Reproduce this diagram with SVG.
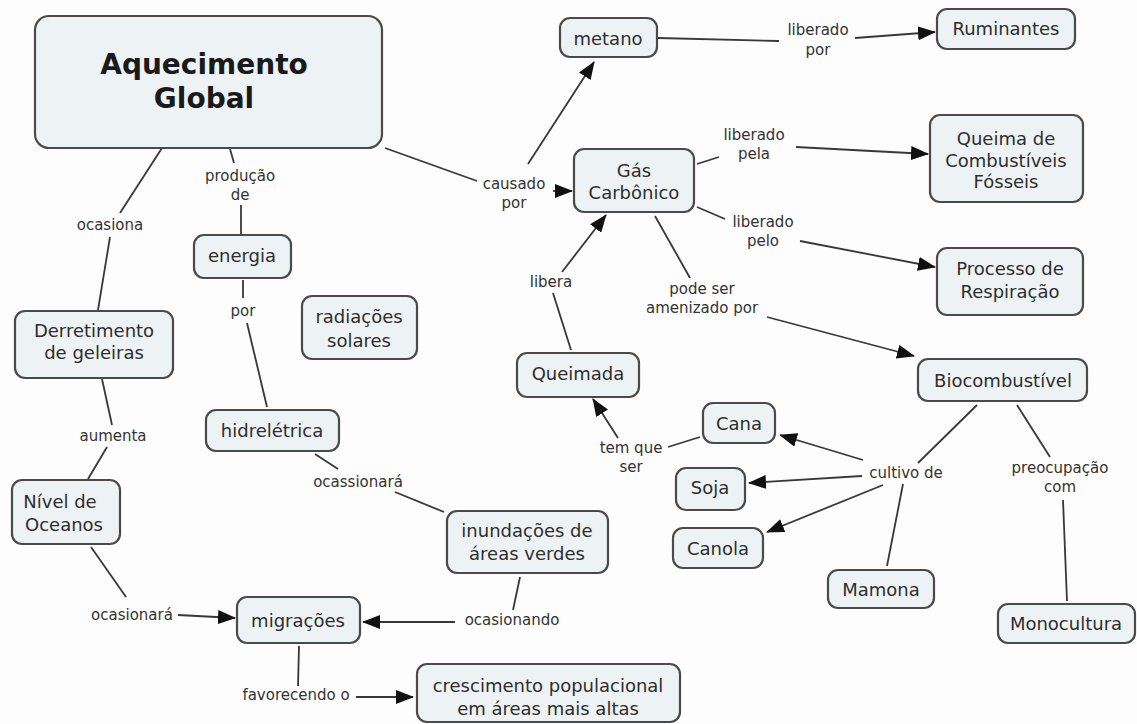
<svg xmlns="http://www.w3.org/2000/svg" width="1137" height="724" viewBox="0 0 1137 724">
<style>
.n rect{fill:#edf2f5;stroke:#4a4a4a;stroke-width:2.2}
.n text{font-family:"DejaVu Sans","Liberation Sans",sans-serif;font-size:18px;fill:#2e2e2e;text-anchor:middle}
.t text{font-weight:bold;font-size:28px;fill:#1a1a1a}
.lbl{font-family:"DejaVu Sans","Liberation Sans",sans-serif;font-size:15px;fill:#333;text-anchor:middle}
#links line{stroke:#383838;stroke-width:1.8}
#links line.a{marker-end:url(#ah)}
</style>
<defs>
<marker id="ah" markerUnits="userSpaceOnUse" markerWidth="18" markerHeight="14" refX="17" refY="7" orient="auto" viewBox="0 0 18 14">
<path d="M0,0 L18,7 L0,14 Z" fill="#111"/>
</marker>
</defs>
<rect width="1137" height="724" fill="#fdfdfd"/>
<g id="links">
<line x1="162" y1="148" x2="120" y2="213"/>
<line x1="110" y1="237" x2="98" y2="310"/>
<line x1="230" y1="149" x2="234" y2="163"/>
<line x1="241" y1="205" x2="241" y2="234"/>
<line x1="243" y1="280" x2="243" y2="298"/>
<line x1="247" y1="323" x2="267" y2="407"/>
<line x1="102" y1="379" x2="112" y2="425"/>
<line x1="107" y1="447" x2="88" y2="479"/>
<line x1="315" y1="454" x2="338" y2="469"/>
<line x1="395" y1="492" x2="444" y2="512"/>
<line x1="520" y1="577" x2="513" y2="610"/>
<line class="a" x1="455" y1="622" x2="363" y2="622"/>
<line x1="91" y1="547" x2="126" y2="597"/>
<line class="a" x1="178" y1="615" x2="235" y2="618"/>
<line x1="299" y1="646" x2="298" y2="686"/>
<line class="a" x1="356" y1="697" x2="413" y2="697"/>
<line x1="385" y1="148" x2="477" y2="181"/>
<line class="a" x1="553" y1="191" x2="572" y2="191"/>
<line class="a" x1="528" y1="164" x2="594" y2="62"/>
<line x1="658" y1="38" x2="779" y2="41"/>
<line class="a" x1="855" y1="38" x2="935" y2="32"/>
<line x1="697" y1="164" x2="719" y2="157"/>
<line class="a" x1="796" y1="147" x2="928" y2="154"/>
<line x1="697" y1="207" x2="725" y2="219"/>
<line class="a" x1="800" y1="241" x2="935" y2="267"/>
<line x1="655" y1="216" x2="690" y2="278"/>
<line class="a" x1="767" y1="317" x2="914" y2="356"/>
<line x1="571" y1="350" x2="553" y2="293"/>
<line class="a" x1="562" y1="272" x2="606" y2="215"/>
<line class="a" x1="618" y1="438" x2="593" y2="399"/>
<line x1="700" y1="437" x2="668" y2="447"/>
<line x1="977" y1="405" x2="918" y2="463"/>
<line class="a" x1="863" y1="460" x2="780" y2="435"/>
<line class="a" x1="862" y1="476" x2="749" y2="483"/>
<line class="a" x1="883" y1="485" x2="767" y2="532"/>
<line x1="903" y1="484" x2="887" y2="566"/>
<line x1="1017" y1="405" x2="1050" y2="457"/>
<line x1="1063" y1="500" x2="1067" y2="601"/>
<text class="lbl" x="110" y="230">ocasiona</text>
<text class="lbl" x="240" y="181">produção</text>
<text class="lbl" x="240" y="200">de</text>
<text class="lbl" x="243" y="316">por</text>
<text class="lbl" x="113" y="441">aumenta</text>
<text class="lbl" x="358" y="487">ocassionará</text>
<text class="lbl" x="132" y="620">ocasionará</text>
<text class="lbl" x="296" y="700">favorecendo o</text>
<text class="lbl" x="512" y="625">ocasionando</text>
<text class="lbl" x="514" y="189">causado</text>
<text class="lbl" x="514" y="208">por</text>
<text class="lbl" x="818" y="35">liberado</text>
<text class="lbl" x="818" y="55">por</text>
<text class="lbl" x="754" y="140">liberado</text>
<text class="lbl" x="754" y="159">pela</text>
<text class="lbl" x="763" y="227">liberado</text>
<text class="lbl" x="763" y="246">pelo</text>
<text class="lbl" x="551" y="287">libera</text>
<text class="lbl" x="702" y="294">pode ser</text>
<text class="lbl" x="702" y="313">amenizado por</text>
<text class="lbl" x="631" y="453">tem que</text>
<text class="lbl" x="631" y="472">ser</text>
<text class="lbl" x="906" y="478">cultivo de</text>
<text class="lbl" x="1060" y="473">preocupação</text>
<text class="lbl" x="1060" y="492">com</text>
</g>
<g id="aquecimento" class="n t"><rect x="35" y="16" width="347" height="132" rx="14"/><text x="204" y="74">Aquecimento</text><text x="204" y="108">Global</text></g>
<g id="metano" class="n"><rect x="560" y="18" width="97" height="39" rx="10"/><text x="608" y="45">metano</text></g>
<g id="ruminantes" class="n"><rect x="937" y="9" width="138" height="40" rx="10"/><text x="1006" y="35">Ruminantes</text></g>
<g id="queima" class="n"><rect x="930" y="115" width="153" height="87" rx="10"/><text x="1006" y="145">Queima de</text><text x="1006" y="167">Combustíveis</text><text x="1006" y="188">Fósseis</text></g>
<g id="processo" class="n"><rect x="937" y="248" width="146" height="67" rx="10"/><text x="1010" y="275">Processo de</text><text x="1010" y="298">Respiração</text></g>
<g id="gas" class="n"><rect x="574" y="149" width="120" height="63" rx="10"/><text x="634" y="177">Gás</text><text x="634" y="199">Carbônico</text></g>
<g id="energia" class="n"><rect x="194" y="235" width="97" height="43" rx="10"/><text x="242" y="262">energia</text></g>
<g id="radiacoes" class="n"><rect x="302" y="296" width="115" height="63" rx="10"/><text x="359" y="323">radiações</text><text x="359" y="347">solares</text></g>
<g id="derretimento" class="n"><rect x="15" y="311" width="158" height="67" rx="10"/><text x="94" y="337">Derretimento</text><text x="94" y="359">de geleiras</text></g>
<g id="hidreletrica" class="n"><rect x="206" y="410" width="133" height="41" rx="10"/><text x="272" y="437">hidrelétrica</text></g>
<g id="queimada" class="n"><rect x="517" y="353" width="122" height="44" rx="10"/><text x="578" y="380">Queimada</text></g>
<g id="cana" class="n"><rect x="703" y="403" width="72" height="40" rx="10"/><text x="739" y="430">Cana</text></g>
<g id="biocombustivel" class="n"><rect x="918" y="359" width="169" height="42" rx="10"/><text x="1003" y="387">Biocombustível</text></g>
<g id="soja" class="n"><rect x="676" y="468" width="69" height="42" rx="10"/><text x="710" y="494">Soja</text></g>
<g id="canola" class="n"><rect x="673" y="528" width="90" height="40" rx="10"/><text x="718" y="555">Canola</text></g>
<g id="mamona" class="n"><rect x="828" y="570" width="106" height="38" rx="10"/><text x="881" y="596">Mamona</text></g>
<g id="monocultura" class="n"><rect x="998" y="604" width="137" height="39" rx="10"/><text x="1066" y="630">Monocultura</text></g>
<g id="nivel" class="n"><rect x="12" y="480" width="108" height="64" rx="10"/><text x="60" y="508">Nível de</text><text x="64" y="531">Oceanos</text></g>
<g id="migracoes" class="n"><rect x="237" y="597" width="123" height="46" rx="10"/><text x="298" y="627">migrações</text></g>
<g id="inundacoes" class="n"><rect x="447" y="511" width="161" height="62" rx="10"/><text x="527" y="537">inundações de</text><text x="527" y="560">áreas verdes</text></g>
<g id="crescimento" class="n"><rect x="417" y="664" width="263" height="58" rx="10"/><text x="548" y="692">crescimento populacional</text><text x="548" y="715">em áreas mais altas</text></g>
</svg>
